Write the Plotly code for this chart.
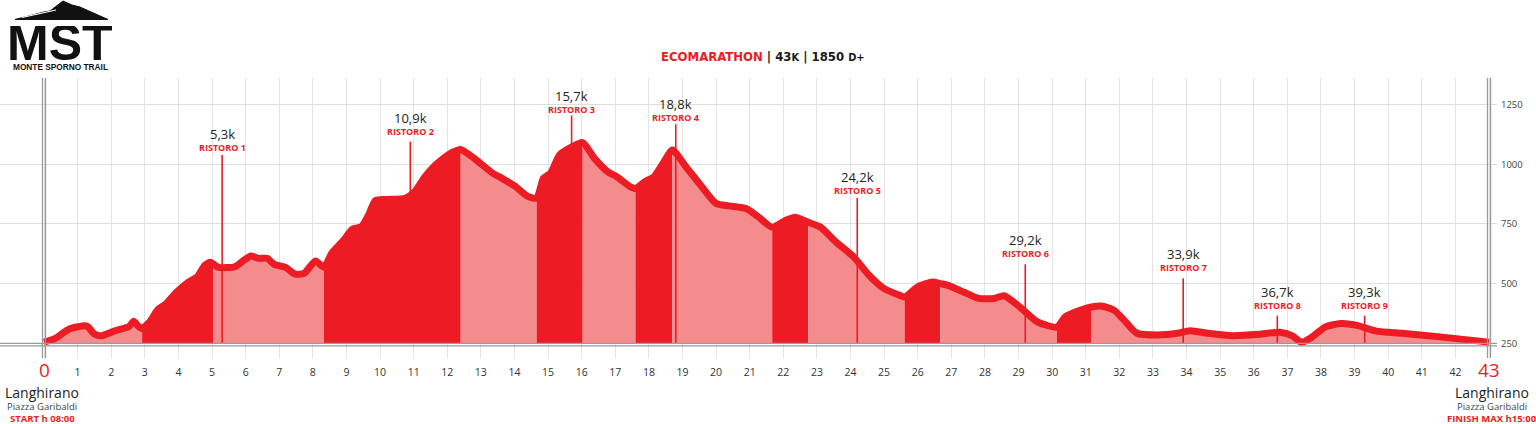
import plotly.graph_objects as go

# ---------------- data ----------------
profile_km = [0.0, 0.34, 0.75, 1.16, 1.3, 1.5, 1.71, 2.05, 2.4, 2.53, 2.67, 2.81, 2.92,
              3.15, 3.38, 3.63, 3.88, 4.11, 4.32, 4.56, 4.79, 4.95, 5.04,
              5.2, 5.68, 5.96, 6.16, 6.37, 6.64, 6.85, 7.19, 7.47, 7.74, 8.08, 8.33,
              8.56, 8.9, 9.18, 9.45, 9.66, 9.86, 10.2, 10.75, 11.03, 11.3, 11.5, 11.85, 12.19, 12.4,
              12.8, 13.36, 13.63, 14.04, 14.38, 14.66,
              14.86, 15.07, 15.34, 15.68, 16.03,
              16.38, 16.8, 17.0, 17.47, 17.6,
              17.88, 18.15, 18.42, 18.7,
              19.1, 19.52, 20.0, 20.38, 20.91, 21.29, 21.67,
              22.05, 22.35, 22.74,
              23.11, 23.57, 24.1, 24.55, 25.0, 25.46, 25.61,
              25.99, 26.45, 26.67,
              26.9, 27.36, 27.81, 28.27, 28.57, 29.03, 29.56, 30.14,
              30.39, 30.85, 31.17,
              31.46, 31.84, 32.14, 32.52, 33.13, 33.73, 34.11, 34.64, 35.4, 36.16, 36.77,
              37.15, 37.42, 37.68, 38.13, 38.59, 39.04, 39.65, 40.41, 41.47, 43.0]
profile_elev = [255, 271, 310, 323, 320, 289, 282, 299, 314, 320, 342, 320, 312,
                341, 390, 415, 455, 485, 508, 529, 578, 590, 582,
                568, 571, 599, 616, 606, 606, 581, 568, 540, 543, 595, 568,
                627, 679, 728, 739, 788, 848, 853, 858, 885, 941, 976, 1021, 1053, 1062,
                1025, 962, 941, 906, 867, 858,
                941, 962, 1039, 1071, 1091,
                1025, 966, 952, 904, 898,
                927, 948, 1004, 1060,
                990, 916, 836, 826, 814, 776, 736,
                764, 778, 757,
                736, 674, 611, 535, 479, 451, 444,
                486, 507, 500,
                493, 465, 438, 438, 449, 403, 340, 318,
                361, 389, 402,
                406, 389, 347, 292, 285, 292, 303, 292, 282, 288, 296,
                281, 254, 271, 319, 333, 326, 301, 292, 278, 255]

# climbing sections (darker fill)
climb_ranges = [(2.92, 5.04), (8.33, 12.4), (14.66, 16.03), (17.6, 18.7),
                (21.67, 22.74), (25.61, 26.67), (30.14, 31.17)]

ristoro_km = [5.3, 10.9, 15.7, 18.8, 24.2, 29.2, 33.9, 36.7, 39.3]
ristoro_names = ["RISTORO 1", "RISTORO 2", "RISTORO 3", "RISTORO 4", "RISTORO 5",
                 "RISTORO 6", "RISTORO 7", "RISTORO 8", "RISTORO 9"]

x_ticks = list(range(0, 44))
y_ticks = [250, 500, 750, 1000, 1250]

# label / marker placement (layout)
ristoro_name_elev = [1070, 1137, 1228, 1196, 890, 627, 568, 408, 408]
ristoro_line_top = [1039, 1095, 1204, 1168, 859, 581, 522, 366, 366]

# ---------------- layout constants ----------------
W, H = 1536, 424
ML, MR, MT, MB = 0, 39, 78, 66
PW, PH = W - ML - MR, H - MT - MB
RED = "#ED1C24"
PINK = "#F48B8D"
BASE = 250
XR = [-44 / 33.605, (PW - 44) / 33.605]
YR = [188.4, 1361.6]


def pxx(x):
    return (x - ML) / PW


def pxy(y):
    return (H - MB - y) / PH


fig = go.Figure()

# fills: alternating light / dark segments
bounds = [profile_km[0]]
for a, b in climb_ranges:
    bounds += [a, b]
bounds.append(profile_km[-1])
for i in range(len(bounds) - 1):
    a, b = bounds[i], bounds[i + 1]
    xs = [k for k in profile_km if a - 1e-9 <= k <= b + 1e-9]
    ys = [profile_elev[profile_km.index(k)] for k in xs]
    color = RED if i % 2 == 1 else PINK
    fig.add_trace(go.Scatter(x=[a, b], y=[BASE, BASE], mode="lines",
                             line=dict(width=0, color=color), hoverinfo="skip", showlegend=False))
    fig.add_trace(go.Scatter(x=xs, y=ys, mode="lines", fill="tonexty", fillcolor=color,
                             line=dict(width=0, color=color, shape="spline", smoothing=0.6),
                             hoverinfo="skip", showlegend=False))

# profile line
fig.add_trace(go.Scatter(x=profile_km, y=profile_elev, mode="lines",
                         line=dict(width=7, color=RED, shape="spline", smoothing=0.6),
                         hoverinfo="skip", showlegend=False))

shapes = []
annotations = []

# aid station markers
for km, name, ny, top in zip(ristoro_km, ristoro_names, ristoro_name_elev, ristoro_line_top):
    shapes.append(dict(type="line", xref="x", yref="y", x0=km, x1=km, y0=BASE - 3, y1=top,
                       line=dict(color=RED, width=1.6)))
    annotations.append(dict(x=km, y=ny, xref="x", yref="y", text="<b>" + name + "</b>",
                            showarrow=False, xanchor="center", yanchor="middle",
                            font=dict(family="Open Sans", size=9, color=RED)))
    annotations.append(dict(x=km, y=ny, xref="x", yref="y",
                            text=("%.1f" % km).replace(".", ",") + "k",
                            showarrow=False, xanchor="center", yanchor="middle", yshift=13.5,
                            font=dict(family="Open Sans", size=13, color="#231f20")))

# double axis lines
for xv in (0, 43):
    for d in (-0.045, 0.045):
        shapes.append(dict(type="line", xref="x", yref="paper", x0=xv + d, x1=xv + d, y0=0, y1=1,
                           line=dict(color="#9a9a9a", width=1.3)))
for yv in (BASE, BASE - 11):
    shapes.append(dict(type="line", xref="paper", yref="y", x0=0, x1=1, y0=yv, y1=yv,
                       line=dict(color="#9a9a9a", width=1.3)))

# logo mountain
mx = [15, 44, 50, 63, 72, 80, 108]
my = [19.5, 12, 11, 1, 5, 7, 19.5]
path = "M " + " L ".join("%.5f,%.5f" % (pxx(a), pxy(b)) for a, b in zip(mx, my)) + " Z"
shapes.append(dict(type="path", xref="paper", yref="paper", path=path,
                   fillcolor="#111", line=dict(color="#111", width=1)))
shapes.append(dict(type="line", xref="paper", yref="paper",
                   x0=pxx(22), y0=pxy(17.5), x1=pxx(56), y1=pxy(10),
                   line=dict(color="white", width=1.2)))

annotations += [
    dict(x=pxx(60), y=pxy(43), xref="paper", yref="paper", text="<b>MST</b>", showarrow=False,
         xanchor="center", yanchor="middle", height=34, valign="middle",
         font=dict(family="Liberation Sans", size=50, color="#111")),
    dict(x=pxx(60), y=pxy(67), xref="paper", yref="paper", text="<b>MONTE SPORNO TRAIL</b>",
         showarrow=False, xanchor="center", yanchor="middle",
         font=dict(family="Liberation Sans", size=8.3, color="#111")),
    dict(x=pxx(763), y=pxy(56), xref="paper", yref="paper",
         text="<b><span style='color:#ED1C24'>ECOMARATHON</span> | 43<span style='font-size:11px'>K</span>"
              " | 1850 <span style='font-size:11px'>D+</span></b>",
         showarrow=False, xanchor="center", yanchor="middle",
         font=dict(family="DejaVu Sans Condensed, sans-serif", size=13, color="#1a1a1a")),
    # start / finish km labels
    dict(x=0, y=pxy(370), xref="x", yref="paper", text=str(x_ticks[0]), showarrow=False,
         xanchor="center", yanchor="middle", font=dict(family="Open Sans", size=19, color=RED)),
    dict(x=43, y=pxy(370), xref="x", yref="paper", text=str(x_ticks[-1]), showarrow=False,
         xanchor="center", yanchor="middle", font=dict(family="Open Sans", size=19, color=RED)),
]
for xc, last in ((42, "START h 08:00"), (1492, "FINISH MAX h15:00")):
    annotations += [
        dict(x=pxx(xc), y=pxy(392), xref="paper", yref="paper", text="Langhirano", showarrow=False,
             xanchor="center", yanchor="middle", font=dict(family="Open Sans", size=14, color="#231f20")),
        dict(x=pxx(xc), y=pxy(406), xref="paper", yref="paper", text="Piazza Garibaldi", showarrow=False,
             xanchor="center", yanchor="middle", font=dict(family="Open Sans", size=9.5, color="#444")),
        dict(x=pxx(xc), y=pxy(418), xref="paper", yref="paper", text="<b>" + last + "</b>",
             showarrow=False, xanchor="center", yanchor="middle",
             font=dict(family="Open Sans", size=9.5, color=RED)),
    ]

fig.update_layout(
    width=W, height=H,
    margin=dict(l=ML, r=MR, t=MT, b=MB, autoexpand=False),
    paper_bgcolor="white", plot_bgcolor="white",
    showlegend=False,
    xaxis=dict(range=XR, tickvals=x_ticks,
               ticktext=["" if k in (0, 43) else str(k) for k in x_ticks],
               showgrid=True, gridcolor="#e4e4e4", gridwidth=1.4, zeroline=False, showline=False,
               ticks="", ticklabelstandoff=6,
               tickfont=dict(family="Open Sans", size=10.5, color="#333")),
    yaxis=dict(range=YR, tickvals=y_ticks, side="right",
               showgrid=True, gridcolor="#dedede", gridwidth=1.4, zeroline=False, showline=False,
               ticks="", ticklabelstandoff=3,
               tickfont=dict(family="Open Sans", size=9.5, color="#444")),
    shapes=shapes,
    annotations=annotations,
)

fig.write_html("out.html", config={"displayModeBar": False},
               post_script="document.body.style.margin='0';document.body.style.overflow='hidden';")
